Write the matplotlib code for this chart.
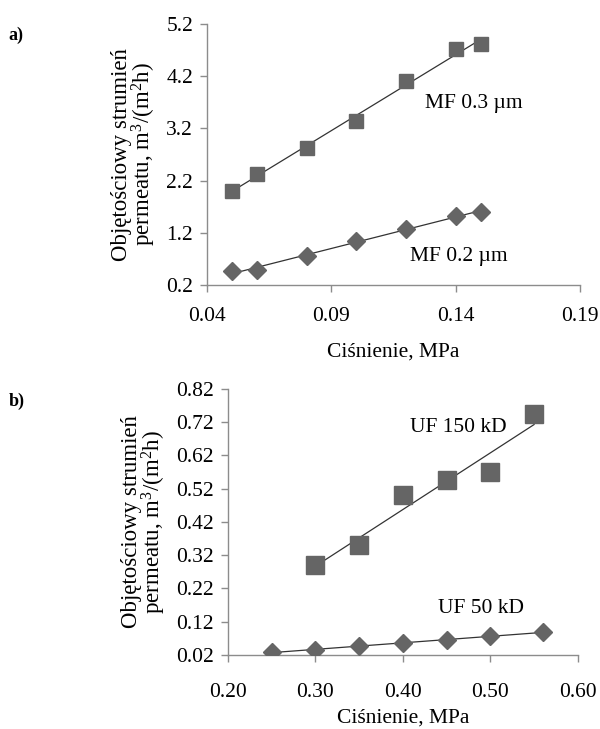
import matplotlib.pyplot as plt
import numpy as np

plt.rcParams['font.family'] = ['Liberation Serif', 'DejaVu Serif']
plt.rcParams['mathtext.fontset'] = 'custom'
plt.rcParams['mathtext.rm'] = 'Liberation Serif'
plt.rcParams['mathtext.it'] = 'Liberation Serif:italic'

# panel a) mikrofiltracja
p_mf = [0.05, 0.06, 0.08, 0.10, 0.12, 0.14, 0.15]
mf03 = [2.00, 2.33, 2.83, 3.35, 4.10, 4.72, 4.82]
mf02 = [0.47, 0.48, 0.75, 1.05, 1.28, 1.52, 1.60]
ticks_a_x = [0.04, 0.09, 0.14, 0.19]
ticks_a_y = [0.2, 1.2, 2.2, 3.2, 4.2, 5.2]

# panel b) ultrafiltracja
p_uf150 = [0.30, 0.35, 0.40, 0.45, 0.50, 0.55]
uf150 = [0.29, 0.35, 0.50, 0.545, 0.57, 0.745]
p_uf50 = [0.25, 0.30, 0.35, 0.40, 0.45, 0.50, 0.56]
uf50 = [0.030, 0.035, 0.047, 0.055, 0.065, 0.076, 0.090]
ticks_b_x = [0.20, 0.30, 0.40, 0.50, 0.60]
ticks_b_y = [0.02, 0.12, 0.22, 0.32, 0.42, 0.52, 0.62, 0.72, 0.82]

YLABEL = 'Objętościowy strumień\npermeatu, m$^3$/(m$^2$h)'
XLABEL = 'Ciśnienie, MPa'
MARK = '#656565'
AXC = '#8c8c8c'
FS = 15.5


def trend(ax, x, y):
    a, b = np.polyfit(x, y, 1)
    xs = np.array([min(x), max(x)])
    ax.plot(xs, a * xs + b, color='#333333', lw=0.9, zorder=3)


def styl(ax, xt, yt, xfmt, yfmt, xpad, xlpad):
    for s in ('top', 'right'):
        ax.spines[s].set_visible(False)
    for s in ('left', 'bottom'):
        ax.spines[s].set_color(AXC)
        ax.spines[s].set_linewidth(1.0)
    ax.set_xlim(xt[0], xt[-1])
    ax.set_ylim(yt[0], yt[-1])
    ax.set_xticks(xt, [xfmt % v for v in xt])
    ax.set_yticks(yt, [yfmt % v for v in yt])
    ax.tick_params(colors=AXC, labelcolor='black', labelsize=FS,
                   length=5, width=1.0)
    ax.tick_params(axis='x', pad=xpad)
    ax.tick_params(axis='y', pad=5)
    ax.set_xlabel(XLABEL, fontsize=FS, labelpad=xlpad)
    ax.set_ylabel(YLABEL, fontsize=16.5, linespacing=0.88, labelpad=6)


fig = plt.figure(figsize=(6, 7.29), dpi=100)

ax1 = fig.add_axes([0.345, 0.609, 0.622, 0.358])
ax1.plot(p_mf, mf03, 's', color=MARK, ms=10, zorder=4)
ax1.plot(p_mf, mf02, 'D', color=MARK, ms=9, zorder=4)
trend(ax1, p_mf, mf03)
trend(ax1, p_mf, mf02)
styl(ax1, ticks_a_x, ticks_a_y, '%.2f', '%.1f', 11, 12)
ax1.text(0.1277, 3.6, 'MF 0.3 µm', fontsize=FS)
ax1.text(0.1216, 0.67, 'MF 0.2 µm', fontsize=FS)
fig.text(0.014, 0.952, 'a)', fontsize=13, fontweight='bold', va='center')

ax2 = fig.add_axes([0.38, 0.1015, 0.583, 0.365])
ax2.plot(p_uf150, uf150, 's', color=MARK, ms=13, zorder=4)
ax2.plot(p_uf50, uf50, 'D', color=MARK, ms=9, zorder=4)
trend(ax2, p_uf150, uf150)
trend(ax2, p_uf50, uf50)
styl(ax2, ticks_b_x, ticks_b_y, '%.2f', '%.2f', 15, 5)
ax2.text(0.408, 0.69, 'UF 150 kD', fontsize=FS)
ax2.text(0.44, 0.145, 'UF 50 kD', fontsize=FS)
fig.text(0.014, 0.45, 'b)', fontsize=13, fontweight='bold', va='center')

fig.savefig('out.png', dpi=100)
